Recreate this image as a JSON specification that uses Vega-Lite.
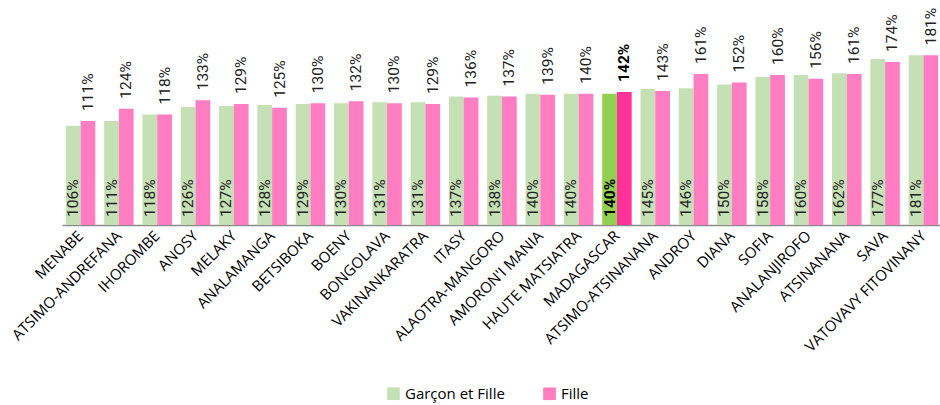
{
  "$schema": "https://vega.github.io/schema/vega-lite/v6.json",
  "width": 880,
  "height": 225,
  "autosize": {"type": "none"},
  "padding": {"left": 62, "top": 0, "right": 0, "bottom": 180},
  "config": {"view": {"stroke": null}, "font": "Open Sans"},
  "data": {"values": [
    {"region": "MENABE", "serie": "Garçon et Fille", "value": 1.06},
    {"region": "MENABE", "serie": "Fille", "value": 1.11},
    {"region": "ATSIMO-ANDREFANA", "serie": "Garçon et Fille", "value": 1.11},
    {"region": "ATSIMO-ANDREFANA", "serie": "Fille", "value": 1.24},
    {"region": "IHOROMBE", "serie": "Garçon et Fille", "value": 1.18},
    {"region": "IHOROMBE", "serie": "Fille", "value": 1.18},
    {"region": "ANOSY", "serie": "Garçon et Fille", "value": 1.26},
    {"region": "ANOSY", "serie": "Fille", "value": 1.33},
    {"region": "MELAKY", "serie": "Garçon et Fille", "value": 1.27},
    {"region": "MELAKY", "serie": "Fille", "value": 1.29},
    {"region": "ANALAMANGA", "serie": "Garçon et Fille", "value": 1.28},
    {"region": "ANALAMANGA", "serie": "Fille", "value": 1.25},
    {"region": "BETSIBOKA", "serie": "Garçon et Fille", "value": 1.29},
    {"region": "BETSIBOKA", "serie": "Fille", "value": 1.30},
    {"region": "BOENY", "serie": "Garçon et Fille", "value": 1.30},
    {"region": "BOENY", "serie": "Fille", "value": 1.32},
    {"region": "BONGOLAVA", "serie": "Garçon et Fille", "value": 1.31},
    {"region": "BONGOLAVA", "serie": "Fille", "value": 1.30},
    {"region": "VAKINANKARATRA", "serie": "Garçon et Fille", "value": 1.31},
    {"region": "VAKINANKARATRA", "serie": "Fille", "value": 1.29},
    {"region": "ITASY", "serie": "Garçon et Fille", "value": 1.37},
    {"region": "ITASY", "serie": "Fille", "value": 1.36},
    {"region": "ALAOTRA-MANGORO", "serie": "Garçon et Fille", "value": 1.38},
    {"region": "ALAOTRA-MANGORO", "serie": "Fille", "value": 1.37},
    {"region": "AMORON'I MANIA", "serie": "Garçon et Fille", "value": 1.40},
    {"region": "AMORON'I MANIA", "serie": "Fille", "value": 1.39},
    {"region": "HAUTE MATSIATRA", "serie": "Garçon et Fille", "value": 1.40},
    {"region": "HAUTE MATSIATRA", "serie": "Fille", "value": 1.40},
    {"region": "MADAGASCAR", "serie": "Garçon et Fille", "value": 1.40},
    {"region": "MADAGASCAR", "serie": "Fille", "value": 1.42},
    {"region": "ATSIMO-ATSINANANA", "serie": "Garçon et Fille", "value": 1.45},
    {"region": "ATSIMO-ATSINANANA", "serie": "Fille", "value": 1.43},
    {"region": "ANDROY", "serie": "Garçon et Fille", "value": 1.46},
    {"region": "ANDROY", "serie": "Fille", "value": 1.61},
    {"region": "DIANA", "serie": "Garçon et Fille", "value": 1.50},
    {"region": "DIANA", "serie": "Fille", "value": 1.52},
    {"region": "SOFIA", "serie": "Garçon et Fille", "value": 1.58},
    {"region": "SOFIA", "serie": "Fille", "value": 1.60},
    {"region": "ANALANJIROFO", "serie": "Garçon et Fille", "value": 1.60},
    {"region": "ANALANJIROFO", "serie": "Fille", "value": 1.56},
    {"region": "ATSINANANA", "serie": "Garçon et Fille", "value": 1.62},
    {"region": "ATSINANANA", "serie": "Fille", "value": 1.61},
    {"region": "SAVA", "serie": "Garçon et Fille", "value": 1.77},
    {"region": "SAVA", "serie": "Fille", "value": 1.74},
    {"region": "VATOVAVY FITOVINANY", "serie": "Garçon et Fille", "value": 1.81},
    {"region": "VATOVAVY FITOVINANY", "serie": "Fille", "value": 1.81}
  ]},
  "encoding": {
    "x": {
      "field": "region", "type": "nominal", "sort": null,
      "scale": {"paddingInner": 0.23, "paddingOuter": 0.1},
      "axis": {
        "title": null, "labelAngle": -45, "labelAlign": "right", "labelBaseline": "middle",
        "labelFontSize": 15, "labelColor": "#000000", "labelPadding": 8,
        "ticks": false, "domainColor": "#8c8c8c", "domainWidth": 1.5, "grid": false
      }
    },
    "xOffset": {"field": "serie", "type": "nominal", "sort": ["Garçon et Fille", "Fille"], "scale": {"paddingInner": 0}}
  },
  "layer": [
    {
      "mark": {"type": "bar"},
      "encoding": {
        "y": {"field": "value", "type": "quantitative", "scale": {"domain": [0, 2.4]}, "axis": null},
        "color": {
          "field": "serie", "type": "nominal",
          "scale": {"domain": ["Garçon et Fille", "Fille"], "range": ["#c5e0b4", "#ff7dc0"]},
          "legend": {
            "title": null, "orient": "none", "direction": "horizontal",
            "legendX": 324, "legendY": 386, "symbolType": "square", "symbolSize": 160,
            "labelFontSize": 15, "labelColor": "#000000", "columnPadding": 37, "symbolStrokeWidth": 0
          },
          "condition": [
            {"test": "datum.region === 'MADAGASCAR' && datum.serie === 'Fille'", "value": "#ff3399"},
            {"test": "datum.region === 'MADAGASCAR'", "value": "#92d050"}
          ]
        }
      }
    },
    {
      "transform": [{"filter": "datum.serie === 'Garçon et Fille' && datum.region !== 'MADAGASCAR'"}],
      "mark": {"type": "text", "angle": 270, "align": "left", "baseline": "middle", "dx": 8, "font": "Roboto", "fontSize": 15.5, "color": "#222222"},
      "encoding": {"y": {"datum": 0}, "text": {"field": "value", "type": "quantitative", "format": ".0%"}}
    },
    {
      "transform": [{"filter": "datum.serie === 'Garçon et Fille' && datum.region === 'MADAGASCAR'"}],
      "mark": {"type": "text", "angle": 270, "align": "left", "baseline": "middle", "dx": 8, "font": "Roboto", "fontSize": 15.5, "fontWeight": "bold", "color": "#000000"},
      "encoding": {"y": {"datum": 0}, "text": {"field": "value", "type": "quantitative", "format": ".0%"}}
    },
    {
      "transform": [{"filter": "datum.serie === 'Fille' && datum.region !== 'MADAGASCAR'"}],
      "mark": {"type": "text", "angle": 270, "align": "left", "baseline": "middle", "dx": 10, "font": "Roboto", "fontSize": 15.5, "color": "#222222"},
      "encoding": {"y": {"field": "value", "type": "quantitative"}, "text": {"field": "value", "type": "quantitative", "format": ".0%"}}
    },
    {
      "transform": [{"filter": "datum.serie === 'Fille' && datum.region === 'MADAGASCAR'"}],
      "mark": {"type": "text", "angle": 270, "align": "left", "baseline": "middle", "dx": 10, "font": "Roboto", "fontSize": 15.5, "fontWeight": "bold", "color": "#000000"},
      "encoding": {"y": {"field": "value", "type": "quantitative"}, "text": {"field": "value", "type": "quantitative", "format": ".0%"}}
    }
  ]
}
